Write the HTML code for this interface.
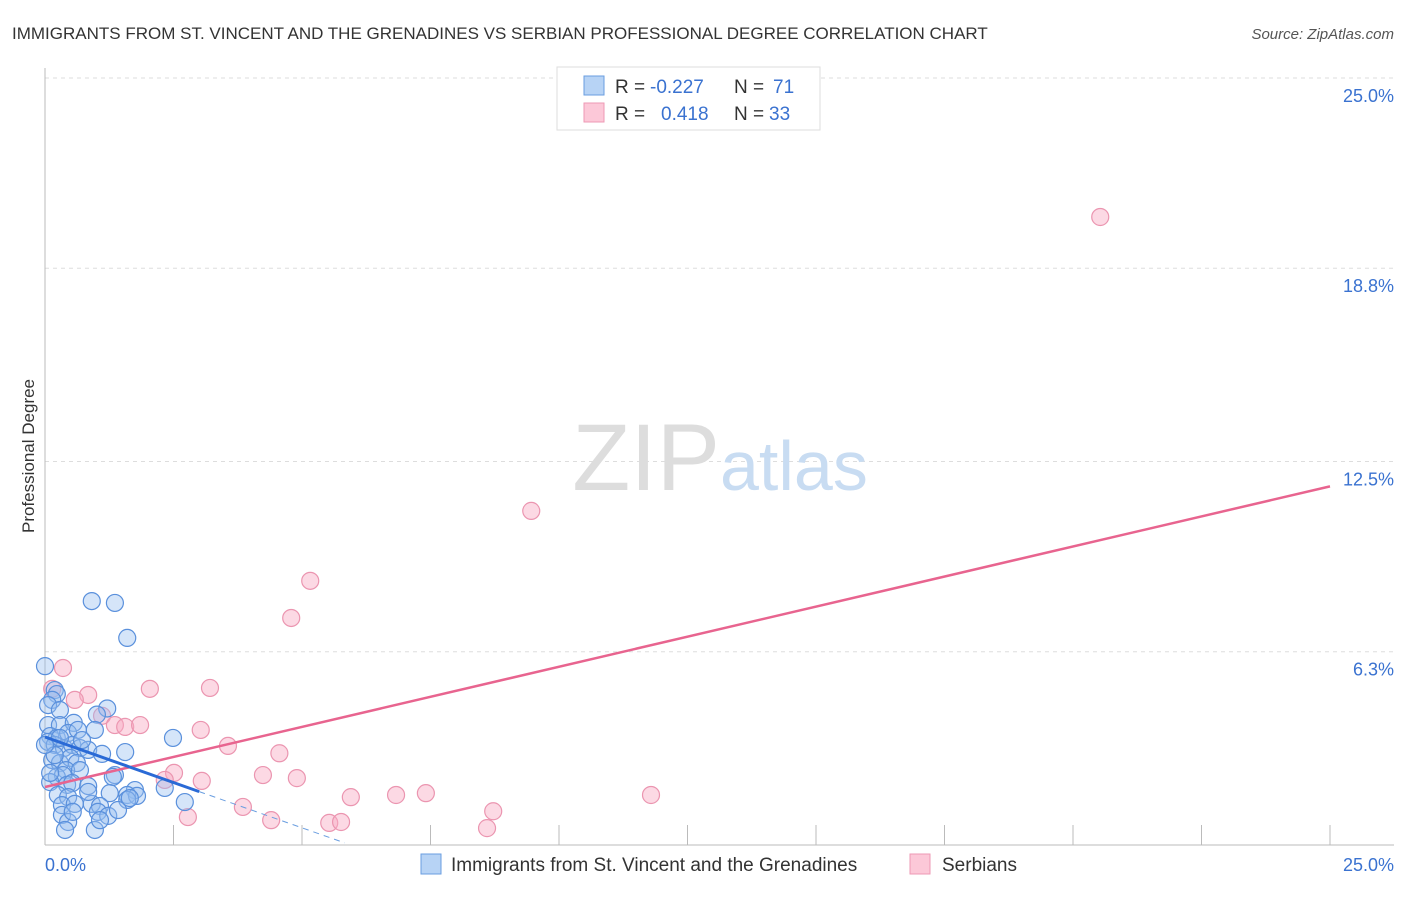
<!DOCTYPE html>
<html><head><meta charset="utf-8"><style>
body{margin:0;background:#fff;font-family:"Liberation Sans",sans-serif;}
svg text{font-family:"Liberation Sans",sans-serif;}
</style></head><body>
<svg width="1406" height="892" viewBox="0 0 1406 892">
<text x="12" y="39" font-size="17" fill="#333">IMMIGRANTS FROM ST. VINCENT AND THE GRENADINES VS SERBIAN PROFESSIONAL DEGREE CORRELATION CHART</text>
<text x="1394" y="39" font-size="15" fill="#555" font-style="italic" text-anchor="end">Source: ZipAtlas.com</text>
<text x="34" y="456" font-size="17" fill="#333" text-anchor="middle" transform="rotate(-90 34 456)">Professional Degree</text>
<g id="grid"></g>
<text x="720" y="490" font-size="95" fill="#ddd" text-anchor="end" font-family="Liberation Serif">ZIP</text>
<text x="720" y="490" font-size="70" fill="#c8dcf2">atlas</text>
<g id="pts"></g>
<g id="lines"></g>
<g>
<rect x="557" y="67" width="263" height="63" fill="#fff" stroke="#ddd"/>
<rect x="584" y="76" width="20" height="19" fill="#b7d3f5" stroke="#6a9ee0"/>
<rect x="584" y="103" width="20" height="19" fill="#fcc8d8" stroke="#ee99b4"/>
<text x="615" y="93" font-size="19" fill="#333">R =</text>
<text x="650" y="93" font-size="19" fill="#3a72d0">-0.227</text>
<text x="734" y="93" font-size="19" fill="#333">N =</text>
<text x="773" y="93" font-size="19" fill="#3a72d0">71</text>
<text x="615" y="120" font-size="19" fill="#333">R =</text>
<text x="661" y="120" font-size="19" fill="#3a72d0">0.418</text>
<text x="734" y="120" font-size="19" fill="#333">N =</text>
<text x="769" y="120" font-size="19" fill="#3a72d0">33</text>
</g>
<g>
<rect x="421" y="854" width="20" height="20" fill="#b7d3f5" stroke="#6a9ee0"/>
<text x="451" y="871" font-size="19" fill="#333">Immigrants from St. Vincent and the Grenadines</text>
<rect x="910" y="854" width="20" height="20" fill="#fcc8d8" stroke="#ee99b4"/>
<text x="942" y="871" font-size="19" fill="#333">Serbians</text>
</g>
<text x="45" y="871" font-size="18" fill="#3a72d0">0.0%</text>
<text x="1394" y="871" font-size="18" fill="#3a72d0" text-anchor="end">25.0%</text>
</svg>
<script>
const yTicks=[25.0,18.8,12.5,6.3];
const yTickLabels=["25.0%","18.8%","12.5%","6.3%"];
const blueX=[0.91,1.36,1.60,0.0,0.19,0.23,0.14,0.06,0.29,1.21,1.01,0.06,0.29,0.56,0.10,0.23,0.45,0.64,0.97,0.06,0.19,0.37,0.53,0.68,0.84,1.11,1.56,2.49,0.14,0.29,0.49,0.62,0.41,0.68,0.23,0.35,1.36,1.32,0.10,0.43,0.53,0.84,0.25,0.45,1.75,1.60,1.79,1.26,2.72,0.33,0.58,0.91,1.07,1.60,2.33,1.03,1.23,0.33,0.45,0.97,0.39,1.07,1.42,0.19,0.72,0.29,1.65,0.0,0.10,0.54,0.84];
const blueY=[7.95,7.89,6.75,5.83,5.05,4.92,4.73,4.56,4.40,4.45,4.25,3.91,3.91,3.98,3.55,3.49,3.65,3.75,3.75,3.36,3.26,3.16,3.26,3.16,3.10,2.97,3.03,3.49,2.77,2.67,2.84,2.67,2.44,2.44,2.22,2.28,2.28,2.22,2.05,1.96,2.02,1.92,1.63,1.56,1.79,1.63,1.60,1.69,1.40,1.30,1.34,1.34,1.27,1.47,1.86,1.08,0.95,0.98,0.75,0.49,0.49,0.81,1.14,2.93,3.42,3.49,1.53,3.26,2.35,1.08,1.73];
const pinkX=[20.53,9.46,5.16,4.79,0.35,0.14,0.84,2.04,3.21,0.58,1.11,1.36,1.56,1.85,3.03,4.56,3.56,2.51,2.33,3.05,4.24,4.90,5.95,6.83,7.41,8.72,11.79,3.85,2.78,4.40,5.53,5.76,8.60],
pinkY=[20.47,10.89,8.61,7.40,5.77,5.09,4.89,5.09,5.12,4.73,4.21,3.91,3.85,3.91,3.75,2.99,3.23,2.35,2.12,2.09,2.28,2.18,1.56,1.63,1.69,1.10,1.63,1.24,0.91,0.81,0.72,0.75,0.55];
const blueR2=[0.0,3.52,3.0,1.74],pinkR2=[0.0,1.89,25.0,11.69];
const blueDash=[3.0,1.74,5.83,0.07];
const X=v=>45+v*51.4, Y=v=>845-v*30.68;
const NS="http://www.w3.org/2000/svg";
function mk(tag,a,parent){const e=document.createElementNS(NS,tag);for(const k in a)e.setAttribute(k,a[k]);parent.appendChild(e);return e;}
const grid=document.getElementById('grid');
yTicks.forEach((t,i)=>{
 const l=mk('line',{x1:45,x2:1394,y1:Y(t),y2:Y(t),stroke:'#ddd','stroke-dasharray':'4,4'},grid);
 
 
 const tx=mk('text',{x:1394,y:Y(t)+24,'font-size':18,fill:'#3a72d0','text-anchor':'end'},grid);
 tx.textContent=yTickLabels[i];
 
 
});
const ax=mk('line',{x1:45,x2:1394,y1:845,y2:845,stroke:'#bbb'},grid);


const ay=mk('line',{x1:45,x2:45,y1:68,y2:845,stroke:'#bbb'},grid);


for(let i=1;i<=10;i++){const t=mk('line',{x1:X(i*2.5),x2:X(i*2.5),y1:825,y2:845,stroke:'#bbb'},grid);
 
 }
const pts=document.getElementById('pts');
pinkX.forEach((x,i)=>{const c=mk('circle',{cx:X(x),cy:Y(pinkY[i]),r:8.5,fill:'rgba(248,170,195,0.45)',stroke:'#eb95b0','stroke-width':1.2},pts);
 
 });
blueX.forEach((x,i)=>{const c=mk('circle',{cx:X(x),cy:Y(blueY[i]),r:8.5,fill:'rgba(150,190,240,0.4)',stroke:'#5a90dc','stroke-width':1.2},pts);
 
 });
const ln=document.getElementById('lines');
const p=mk('line',{x1:X(pinkR2[0]),y1:Y(pinkR2[1]),x2:X(pinkR2[2]),y2:Y(pinkR2[3]),stroke:'#e8648f','stroke-width':2.5},ln);


const b=mk('line',{x1:X(blueR2[0]),y1:Y(blueR2[1]),x2:X(blueR2[2]),y2:Y(blueR2[3]),stroke:'#2a6ad6','stroke-width':3},ln);


const bd=mk('line',{x1:X(blueDash[0]),y1:Y(blueDash[1]),x2:X(blueDash[2]),y2:Y(blueDash[3]),stroke:'#6a9ee0','stroke-width':1,'stroke-dasharray':'6,5'},ln);


</script>
</body></html>
